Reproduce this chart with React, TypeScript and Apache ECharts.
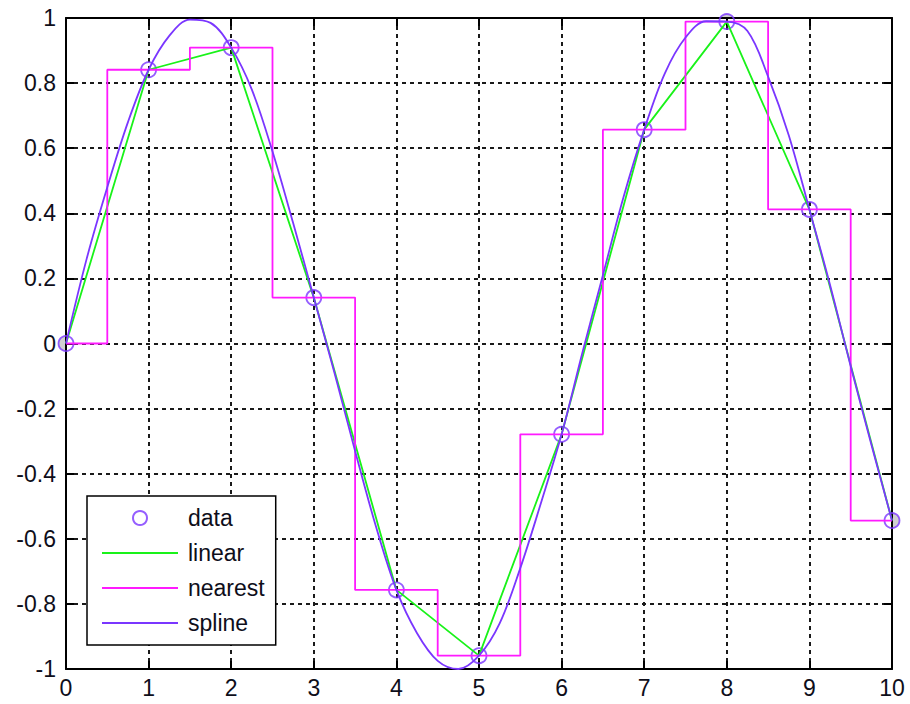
import React, { useEffect, useRef } from "react";
import * as echarts from "echarts";

// Sample points (x = 0..10) and the three interpolants drawn through them.
const sampleX = [0, 1, 2, 3, 4, 5, 6, 7, 8, 9, 10];
const sampleY = [0, 0.841, 0.909, 0.141, -0.757, -0.959, -0.279, 0.657, 0.989, 0.412, -0.544];

// Spline curve read at quarter steps.
const splineX = [
  0, 0.25, 0.5, 0.75, 1, 1.25, 1.5, 1.75, 2, 2.25, 2.5, 2.75, 3, 3.25, 3.5, 3.75, 4, 4.25, 4.5, 4.75,
  5, 5.25, 5.5, 5.75, 6, 6.25, 6.5, 6.75, 7, 7.25, 7.5, 7.75, 8, 8.25, 8.5, 8.75, 9, 9.25, 9.5, 9.75, 10,
];
const splineY = [
  0, 0.26, 0.48, 0.68, 0.841, 0.945, 0.995, 0.985, 0.909, 0.78, 0.59, 0.37, 0.141, -0.09, -0.33, -0.56,
  -0.757, -0.89, -0.975, -1.0, -0.959, -0.86, -0.69, -0.49, -0.279, -0.03, 0.21, 0.45, 0.657, 0.83,
  0.94, 0.99, 0.989, 0.96, 0.82, 0.64, 0.412, 0.18, -0.07, -0.31, -0.544,
];

// Markers that sit on the axes frame get a grey half outside the plot box.
const edgeIdx = [0, 8, 10];

const legendNames = ["data", "linear", "nearest", "spline"];

const xTicks = { min: 0, max: 10, interval: 1 };
const yTicks = { min: -1, max: 1, interval: 0.2 };

const FONT = "'Liberation Sans', Arial, Helvetica, sans-serif";
const INK = "#0e0e1a";
const PURPLE = "#7a36ff";
const GREEN = "#19f219";
const MAGENTA = "#ff1aff";

const pairs = (xs: number[], ys: number[]) => xs.map((x, i) => [x, ys[i]]);

export default function App() {
  const ref = useRef<HTMLDivElement>(null);

  useEffect(() => {
    if (!ref.current) return;
    const chart = echarts.init(ref.current, undefined, { renderer: "svg" });

    const frameLine = { show: true, onZero: false, lineStyle: { color: "#000", width: 2 } };
    const tick = { show: true, inside: true, length: 8, lineStyle: { color: "#000", width: 2 } };
    const label = { fontSize: 23, color: INK, fontFamily: FONT };
    const dashed = { show: true, lineStyle: { color: "#1a1a1a", width: 2, type: [4, 4] as number[] } };

    chart.setOption({
      animation: false,
      backgroundColor: "#fff",
      grid: {
        left: 66,
        right: 18,
        top: 18,
        bottom: 35,
        show: true,
        backgroundColor: "#fff",
        borderWidth: 0,
      },
      xAxis: [
        {
          type: "value",
          position: "bottom",
          ...xTicks,
          axisLine: frameLine,
          axisTick: tick,
          axisLabel: { ...label, margin: 7 },
          splitLine: dashed,
        },
        {
          type: "value",
          position: "top",
          ...xTicks,
          axisLine: frameLine,
          axisTick: tick,
          axisLabel: { show: false },
          splitLine: { show: false },
        },
      ],
      yAxis: [
        {
          type: "value",
          position: "left",
          ...yTicks,
          axisLine: frameLine,
          axisTick: tick,
          axisLabel: {
            ...label,
            margin: 10,
            formatter: (v: number) => String(Math.round(v * 10) / 10),
          },
          splitLine: dashed,
        },
        {
          type: "value",
          position: "right",
          ...yTicks,
          axisLine: frameLine,
          axisTick: tick,
          axisLabel: { show: false },
          splitLine: { show: false },
        },
      ],
      legend: {
        orient: "vertical",
        left: 87,
        top: 496,
        // line entries show a plain stroke, without the marker dot
        data: legendNames.map((name) =>
          name === "data" ? { name } : { name, itemStyle: { opacity: 0 } }
        ),
        backgroundColor: "#fff",
        borderColor: "#000",
        borderWidth: 1.5,
        borderRadius: 0,
        padding: [10, 11, 10, 14],
        itemWidth: 76,
        itemHeight: 14,
        itemGap: 11,
        selectedMode: false,
        textStyle: {
          fontSize: 23,
          lineHeight: 24,
          color: INK,
          fontFamily: FONT,
          padding: [0, 0, 0, 5],
        },
      },
      series: [
        {
          name: "edge",
          type: "scatter",
          z: -1,
          clip: false,
          silent: true,
          symbol: "circle",
          symbolSize: 15,
          itemStyle: { color: "#c4c4c4" },
          data: edgeIdx.map((i) => [sampleX[i], sampleY[i]]),
        },
        {
          name: "data",
          type: "scatter",
          clip: false,
          symbol: "circle",
          symbolSize: 15,
          itemStyle: { color: "rgba(0,0,0,0)", borderColor: PURPLE, borderWidth: 1.8 },
          data: pairs(sampleX, sampleY),
        },
        {
          name: "linear",
          type: "line",
          symbol: "none",
          lineStyle: { color: GREEN, width: 1.8 },
          itemStyle: { color: GREEN },
          data: pairs(sampleX, sampleY),
        },
        {
          name: "nearest",
          type: "line",
          step: "middle",
          symbol: "none",
          lineStyle: { color: MAGENTA, width: 1.8 },
          itemStyle: { color: MAGENTA },
          data: pairs(sampleX, sampleY),
        },
        {
          name: "spline",
          type: "line",
          smooth: 0.35,
          symbol: "none",
          lineStyle: { color: PURPLE, width: 1.8 },
          itemStyle: { color: PURPLE },
          data: pairs(splineX, splineY),
        },
      ],
    });

    return () => chart.dispose();
  }, []);

  return (
    <div
      ref={ref}
      style={{ position: "fixed", left: 0, top: 0, width: 910, height: 704, background: "#fff" }}
    />
  );
}
